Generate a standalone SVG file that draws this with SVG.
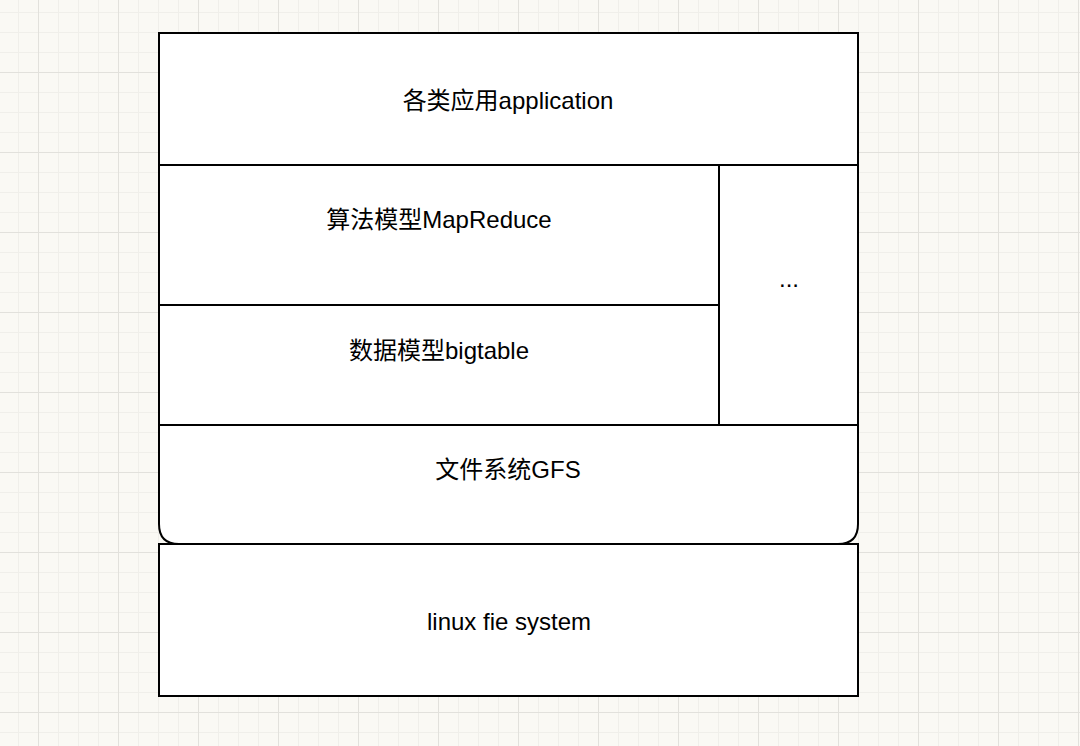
<svg xmlns="http://www.w3.org/2000/svg" width="1080" height="746" viewBox="0 0 1080 746">
  <defs>
    <pattern id="grid" patternUnits="userSpaceOnUse" x="38" y="72" width="80" height="80">
      <rect x="0" y="0" width="80" height="80" fill="#faf9f4"/>
      <g fill="#f0efea">
        <rect x="20" y="0" width="1" height="80"/>
        <rect x="40" y="0" width="1" height="80"/>
        <rect x="60" y="0" width="1" height="80"/>
        <rect x="0" y="20" width="80" height="1"/>
        <rect x="0" y="40" width="80" height="1"/>
        <rect x="0" y="60" width="80" height="1"/>
      </g>
      <g fill="#e2e1dc">
        <rect x="0" y="0" width="1" height="80"/>
        <rect x="0" y="0" width="80" height="1"/>
      </g>
    </pattern>
    <style>
      .box { fill: #ffffff; stroke: #000000; stroke-width: 2; }
      .line { fill: none; stroke: #000000; stroke-width: 2; }
      .lbl { font-family: "Liberation Sans", "Noto Sans CJK SC", sans-serif; font-size: 24px; fill: #000000; text-anchor: middle; }
    </style>
  </defs>
  <rect x="0" y="0" width="1080" height="746" fill="url(#grid)"/>

  <g id="app">
    <rect class="box" x="159" y="33" width="699" height="132"/>
    <text class="lbl" x="508" y="109">各类应用application</text>
  </g>
  <g id="mapreduce">
    <rect class="box" x="159" y="165" width="560" height="140"/>
    <text class="lbl" x="439" y="228">算法模型MapReduce</text>
  </g>
  <g id="bigtable">
    <rect class="box" x="159" y="305" width="560" height="120"/>
    <text class="lbl" x="439" y="359">数据模型bigtable</text>
  </g>
  <g id="other">
    <rect class="box" x="719" y="165" width="139" height="260"/>
    <text class="lbl" x="789" y="287">...</text>
  </g>
  <g id="gfs">
    <path class="box" d="M159 425 H858 V524 Q858 544 838 544 H179 Q159 544 159 524 Z"/>
    <text class="lbl" x="508" y="478">文件系统GFS</text>
  </g>
  <g id="linux">
    <rect class="box" x="159" y="544" width="699" height="152"/>
    <text class="lbl" x="509" y="630">linux fie system</text>
  </g>
  <g id="connectors"/>
</svg>
